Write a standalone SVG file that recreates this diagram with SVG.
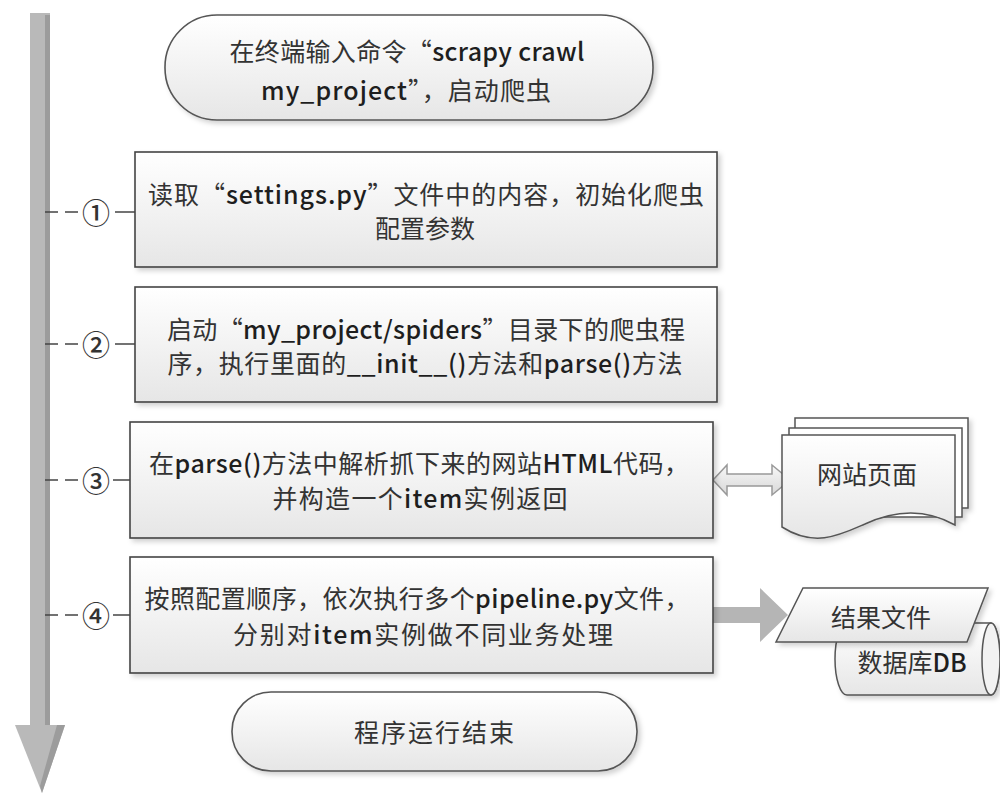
<svg xmlns="http://www.w3.org/2000/svg" width="1000" height="795" viewBox="0 0 1000 795">
  <defs>
    <linearGradient id="boxGrad" x1="0" y1="0" x2="0" y2="1">
      <stop offset="0" stop-color="#ffffff"/>
      <stop offset="1" stop-color="#e6e6e6"/>
    </linearGradient>
    <linearGradient id="arrowGrad" x1="0" y1="0" x2="0" y2="1">
      <stop offset="0" stop-color="#f8f8f8"/>
      <stop offset="1" stop-color="#d8d8d8"/>
    </linearGradient>
    <filter id="shadow" x="-10%" y="-10%" width="125%" height="135%">
      <feDropShadow dx="3" dy="3" stdDeviation="2.5" flood-color="#000" flood-opacity="0.18"/>
    </filter>
  </defs>
  <style>
    .box { fill: url(#boxGrad); stroke: #444; stroke-width: 1.6; filter: url(#shadow); }
    .term { fill: url(#boxGrad); stroke: #555; stroke-width: 1.6; filter: url(#shadow); }
    .page { fill: #ffffff; stroke: #555; stroke-width: 1.5; }
    .t { font-family: "Noto Sans CJK SC", "Noto Sans", sans-serif; font-size: 25px; fill: #333; text-anchor: middle; dominant-baseline: central; }
    .en { font-weight: 500; fill: #1e1e1e; }
    .num { font-family: "Noto Sans CJK SC", "DejaVu Sans", sans-serif; font-size: 28px; font-weight: 500; fill: #333; text-anchor: middle; dominant-baseline: central; }
    .dash { stroke: #444; stroke-width: 1.5; stroke-dasharray: 13 7; fill: none; }
    .solid { stroke: #444; stroke-width: 1.5; fill: none; }
  </style>
  <rect width="1000" height="795" fill="#ffffff"/>

  <g id="connectors">
    <g id="timeline">
      <rect x="30" y="13" width="20" height="714" fill="#b9b9b9"/>
      <rect x="45" y="15" width="5" height="712" fill="#9c9c9c"/>
      <polygon points="15,725 65,725 42,793" fill="#b9b9b9"/>
      <polygon points="57,725 65,725 42,793 40,786" fill="#9c9c9c"/>
    </g>
    <line class="dash" x1="45" y1="212" x2="80" y2="212"/>
    <line class="solid" x1="115" y1="212" x2="135" y2="212"/>
    <line class="dash" x1="45" y1="344" x2="80" y2="344"/>
    <line class="solid" x1="115" y1="344" x2="135" y2="344"/>
    <line class="dash" x1="45" y1="480" x2="80" y2="480"/>
    <line class="solid" x1="113" y1="480" x2="130" y2="480"/>
    <line class="dash" x1="45" y1="615" x2="80" y2="615"/>
    <line class="solid" x1="113" y1="615" x2="130" y2="615"/>
    <polygon points="713,480 727,465 727,474 772,474 772,465 790,480 772,495 772,486 727,486 727,495" fill="url(#arrowGrad)" stroke="#999" stroke-width="1.5"/>
    <polygon points="713,607 760,607 760,588 788,615 760,642 760,623 713,623" fill="#b5b5b5"/>
  </g>

  <g id="step-labels">
    <text class="num" x="96" y="212">①</text>
    <text class="num" x="96" y="344">②</text>
    <text class="num" x="96" y="480">③</text>
    <text class="num" x="96" y="615">④</text>
  </g>

  <g id="start">
    <rect class="term" x="165" y="15" width="488" height="105" rx="52" ry="52"/>
    <text class="t" x="407" y="50" textLength="355" lengthAdjust="spacing">在终端输入命令“<tspan class="en">scrapy crawl</tspan></text>
    <text class="t" x="406" y="89" textLength="290" lengthAdjust="spacing"><tspan class="en">my_project</tspan>”，启动爬虫</text>
  </g>

  <g id="step1">
    <rect class="box" x="135" y="152" width="582" height="115"/>
    <text class="t" x="426" y="193" textLength="556" lengthAdjust="spacing">读取“<tspan class="en">settings.py</tspan>”文件中的内容，初始化爬虫</text>
    <text class="t" x="425" y="227">配置参数</text>
  </g>

  <g id="step2">
    <rect class="box" x="135" y="287" width="582" height="115"/>
    <text class="t" x="426" y="328" textLength="518" lengthAdjust="spacing">启动“<tspan class="en">my_project/spiders</tspan>”目录下的爬虫程</text>
    <text class="t" x="425" y="362" textLength="515" lengthAdjust="spacing">序，执行里面的<tspan class="en">__init__()</tspan>方法和<tspan class="en">parse()</tspan>方法</text>
  </g>

  <g id="step3">
    <rect class="box" x="130" y="422" width="583" height="116"/>
    <text class="t" x="419" y="462" textLength="540" lengthAdjust="spacing">在<tspan class="en">parse()</tspan>方法中解析抓下来的网站<tspan class="en">HTML</tspan>代码，</text>
    <text class="t" x="420" y="497" textLength="295" lengthAdjust="spacing">并构造一个<tspan class="en">item</tspan>实例返回</text>
  </g>

  <g id="step4">
    <rect class="box" x="130" y="557" width="583" height="116"/>
    <text class="t" x="417" y="597" textLength="545" lengthAdjust="spacing">按照配置顺序，依次执行多个<tspan class="en">pipeline.py</tspan>文件，</text>
    <text class="t" x="423" y="633" textLength="380" lengthAdjust="spacing">分别对<tspan class="en">item</tspan>实例做不同业务处理</text>
  </g>

  <g id="end">
    <rect class="term" x="232" y="692" width="405" height="79" rx="39" ry="39"/>
    <text class="t" x="434" y="731" textLength="160" lengthAdjust="spacing">程序运行结束</text>
  </g>

  <g id="webpages">
    <g filter="url(#shadow)">
      <rect class="page" x="795" y="418" width="173" height="90"/>
      <rect class="page" x="789" y="428" width="173" height="89"/>
      <path d="M782,435 H955 V525 C925,508 895,510 865,524 C840,535 815,548 782,527 Z" fill="url(#boxGrad)" stroke="#555" stroke-width="1.5"/>
    </g>
    <text class="t" x="867" y="473">网站页面</text>
  </g>

  <g id="database">
    <path d="M847,623 H991 A9,36 0 0 1 991,695 H847 A12,36 0 0 1 847,623 Z" fill="url(#boxGrad)" stroke="#555" stroke-width="1.5" filter="url(#shadow)"/>
    <ellipse cx="991" cy="659" rx="9" ry="36" fill="#f2f2f2" stroke="#555" stroke-width="1.5"/>
    <text class="t" x="912" y="661"><tspan>数据库</tspan><tspan class="en">DB</tspan></text>
  </g>

  <g id="resultfile">
    <polygon points="803,588 988,588 967,642 776,642" fill="url(#boxGrad)" stroke="#555" stroke-width="1.5" filter="url(#shadow)"/>
    <text class="t" x="881" y="616">结果文件</text>
  </g>
</svg>
